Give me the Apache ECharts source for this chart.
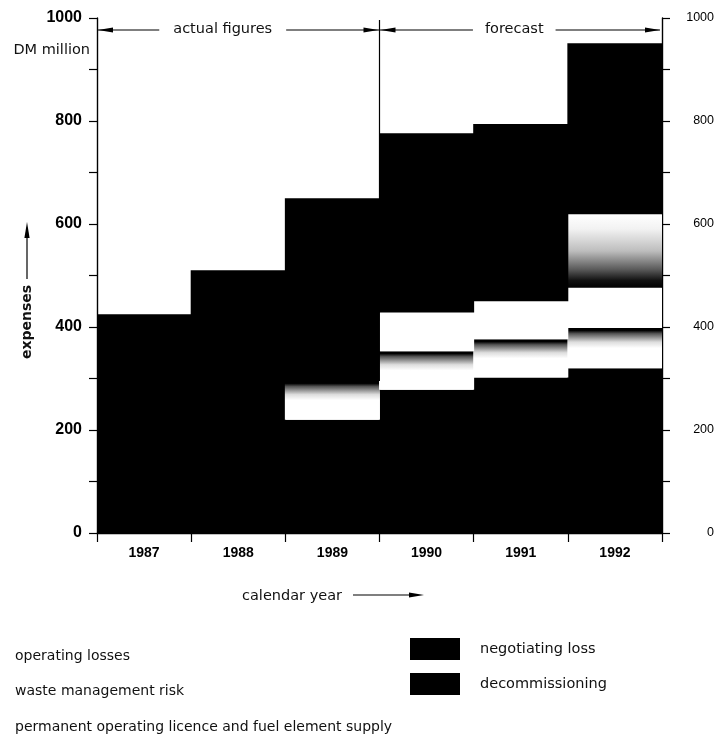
<!DOCTYPE html>
<html>
<head>
<meta charset="utf-8">
<script src="https://cdn.jsdelivr.net/npm/echarts@6/dist/echarts.min.js"></script>
<style>
  html, body { margin: 0; padding: 0; background: #fff; }
  #chart { width: 718px; height: 736px; }
</style>
</head>
<body>
<div id="chart"></div>
<script>
// ---- data (DM million) ----
const years = ['1987', '1988', '1989', '1990', '1991', '1992'];
const decommissioning      = [425, 510, 220, 278, 302, 320];
const wasteManagementRisk  = [0, 0, 75, 75, 74, 78];
const permanentLicence     = [0, 0, 0, 75, 74, 78];
const operatingLosses      = [0, 0, 0, 0, 0, 143];
const negotiatingLoss      = [0, 0, 355, 348, 344, 332];
const yMin = 0, yMax = 1000, yStep = 100, yLabelStep = 200;

const NUM_FONT = '"Liberation Sans", Arial, sans-serif';
const TXT_FONT = '"DejaVu Sans", Verdana, sans-serif';
const INK = '#000';

const chart = echarts.init(document.getElementById('chart'), null, { renderer: 'canvas' });

function vGradient(stops) {
  return { type: 'linear', x: 0, y: 0, x2: 0, y2: 1,
    colorStops: stops.map(function (s) { return { offset: s[0], color: s[1] }; }) };
}
const wasteGradient = vGradient([[0, '#000'], [0.06, '#000'], [0.14, '#555'], [0.35, '#ddd'], [0.5, '#fff'], [1, '#fff']]);
const boxGradient = vGradient([[0, '#fff'], [0.2, '#f2f2f2'], [0.5, '#bdbdbd'], [0.75, '#5a5a5a'], [0.9, '#111'], [1, '#000']]);

function barSeries(name, data, color) {
  return {
    name: name, type: 'bar', stack: 'total', data: data,
    barWidth: '101%',
    itemStyle: { color: color, borderWidth: 0 },
    emphasis: { disabled: true },
    silent: true
  };
}

function yAxisCfg(position, labelCfg) {
  return {
    type: 'value', position: position, min: yMin, max: yMax, interval: yStep,
    axisLine: { show: true, lineStyle: { color: INK, width: 1.4 } },
    axisTick: { show: true, length: 8, lineStyle: { color: INK, width: 1.2 } },
    splitLine: { show: false },
    axisLabel: Object.assign({
      color: '#000',
      formatter: function (v) { return v % yLabelStep === 0 ? String(v) : ''; }
    }, labelCfg)
  };
}

chart.setOption({
  animation: false,
  backgroundColor: '#fff',
  grid: { left: 97, right: 56, top: 18, bottom: 203, containLabel: false },
  xAxis: {
    type: 'category', data: years, boundaryGap: true,
    splitLine: { show: false },
    axisLine: { show: true, lineStyle: { color: INK, width: 1.4 } },
    axisTick: { show: true, length: 9, alignWithLabel: false, lineStyle: { color: INK, width: 1.2 } },
    axisLabel: { color: '#000', fontFamily: NUM_FONT, fontSize: 14, fontWeight: 'bold', margin: 13 }
  },
  yAxis: [
    yAxisCfg('left', { fontFamily: NUM_FONT, fontSize: 16, fontWeight: 'bold', margin: 15 }),
    yAxisCfg('right', { fontFamily: NUM_FONT, fontSize: 12.5, margin: 52, align: 'right' })
  ],
  legend: [
    {
      data: ['operating losses', 'waste management risk', 'permanent operating licence and fuel element supply'],
      orient: 'vertical', left: 10, top: 648, width: 500, height: 200, padding: 0,
      icon: 'rect', itemWidth: 0, itemHeight: 16, itemGap: 19.5,
      itemStyle: { opacity: 0 },
      selectedMode: false,
      textStyle: { fontFamily: TXT_FONT, fontSize: 14, color: '#111', lineHeight: 16 }
    },
    {
      data: ['negotiating loss', 'decommissioning'],
      orient: 'vertical', left: 410, top: 638, width: 300, height: 100, padding: 0,
      icon: 'rect', itemWidth: 50, itemHeight: 22, itemGap: 13,
      itemStyle: { borderWidth: 0 },
      selectedMode: false,
      textStyle: { fontFamily: TXT_FONT, fontSize: 14.5, color: '#111', padding: [3, 0, 0, 15] }
    }
  ],
  series: [
    barSeries('decommissioning', decommissioning, '#000'),
    barSeries('waste management risk', wasteManagementRisk, wasteGradient),
    barSeries('permanent operating licence and fuel element supply', permanentLicence, '#fff'),
    barSeries('operating losses', operatingLosses, boxGradient),
    barSeries('negotiating loss', negotiatingLoss, '#000')
  ]
});

// ---- annotations positioned from the axes ----
const cx = function (i) { return chart.convertToPixel({ xAxisIndex: 0 }, years[i]); };
const band = cx(1) - cx(0);
const x0 = cx(0) - band / 2;
const xSplit = (cx(2) + cx(3)) / 2;
const xEnd = cx(years.length - 1) + band / 2;
const yTop = chart.convertToPixel({ yAxisIndex: 0 }, yMax);
const yZero = chart.convertToPixel({ yAxisIndex: 0 }, yMin);
const yAnn = yTop + 12;

function line(x1, y1, x2, y2, z) {
  return { type: 'line', z: z || 1, silent: true,
    shape: { x1: x1, y1: y1, x2: x2, y2: y2 },
    style: { stroke: INK, lineWidth: 1.2 } };
}
function headH(tipX, y, dir) { // dir: -1 points left, +1 points right
  return { type: 'polygon', z: 2, silent: true,
    shape: { points: [[tipX, y], [tipX - dir * 15, y - 2.6], [tipX - dir * 15, y + 2.6]] },
    style: { fill: INK } };
}
function label(text, x, y, opts) {
  return Object.assign({ type: 'text', z: 3, silent: true, x: x, y: y,
    style: Object.assign({ text: text, fontFamily: TXT_FONT, fontSize: 14.5, fill: '#111',
      align: 'center', verticalAlign: 'middle' }, opts || {}) });
}

const graphics = [
  line(xSplit, yTop + 2, xSplit, yZero, 0),
  line(x0, yAnn, xSplit, yAnn),
  line(xSplit, yAnn, xEnd - 2, yAnn),
  headH(x0 + 1, yAnn, -1),
  headH(xSplit - 1, yAnn, 1),
  headH(xSplit + 1, yAnn, -1),
  headH(xEnd - 2, yAnn, 1),
  label('actual figures', x0 + 0.445 * (xSplit - x0), yAnn - 1,
    { backgroundColor: '#fff', padding: [2, 14] }),
  label('forecast', xSplit + 0.477 * (xEnd - xSplit), yAnn - 1,
    { backgroundColor: '#fff', padding: [2, 12] }),
  label('DM million', x0 - 7, yTop + 32, { align: 'right' }),
  { type: 'text', z: 3, silent: true, x: 27, y: 322, rotation: Math.PI / 2,
    style: { text: 'expenses', fontFamily: TXT_FONT, fontSize: 14, fontWeight: 'bold', fill: '#111',
      align: 'center', verticalAlign: 'middle' } },
  line(27, 279, 27, 232),
  { type: 'polygon', z: 2, silent: true,
    shape: { points: [[27, 222], [24.4, 238], [29.6, 238]] }, style: { fill: INK } },
  label('calendar year', 242, 596, { align: 'left' }),
  line(353, 595, 412, 595),
  headH(424, 595, 1)
];

chart.setOption({ graphic: { elements: graphics } });
</script>
</body>
</html>
